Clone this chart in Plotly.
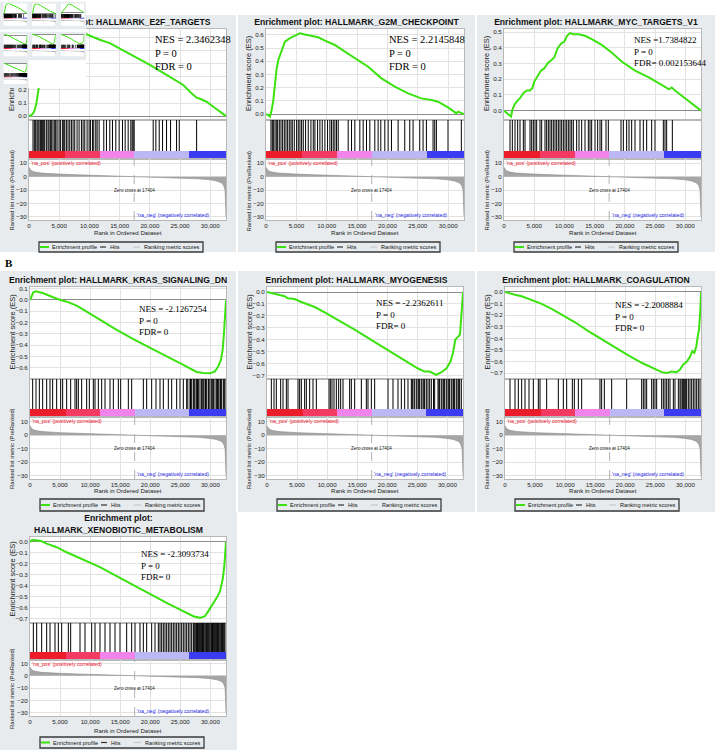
import plotly.graph_objects as go

W, H = 715, 750
N_RANK = 32600
ZERO_CROSS = 17404

# ---------------- data ----------------
METRIC_RANK = [0, 100, 300, 600, 1000, 2000, 3000, 5000, 8000, 11000, 14000, 17404, 20000,
               23000, 26000, 28000, 30000, 31000, 31800, 32200, 32450, 32550, 32600]
METRIC_SCORE = [7.0, 5.8, 4.8, 4.0, 3.4, 2.7, 2.3, 1.9, 1.4, 1.0, 0.5, 0.0, -0.4,
                -0.8, -1.2, -1.6, -2.4, -3.2, -4.5, -6.5, -10.0, -20.0, -30.0]

COLORBAR_EDGES = [0, 6000, 11700, 17404, 26500, 32600]
COLORBAR_COLORS = ['#ec1c2a', '#f23a62', '#f283ea', '#bcb8f5', '#3b3bf2']

X_TICKS = [0, 5000, 10000, 15000, 20000, 25000, 30000]
X_TICK_LABELS = ['0', '5,000', '10,000', '15,000', '20,000', '25,000', '30,000']
METRIC_TICKS = [10, 0, -10, -20, -30]

TITLES = [
    ['Enrichment plot: HALLMARK_E2F_TARGETS'],
    ['Enrichment plot: HALLMARK_G2M_CHECKPOINT'],
    ['Enrichment plot: HALLMARK_MYC_TARGETS_V1'],
    ['Enrichment plot: HALLMARK_KRAS_SIGNALING_DN'],
    ['Enrichment plot: HALLMARK_MYOGENESIS'],
    ['Enrichment plot: HALLMARK_COAGULATION'],
    ['Enrichment plot:', 'HALLMARK_XENOBIOTIC_METABOLISM'],
]
STATS = [
    ['NES = 2.3462348', 'P = 0', 'FDR = 0'],
    ['NES = 2.2145848', 'P = 0', 'FDR = 0'],
    ['NES =1.7384822', 'P = 0', 'FDR= 0.002153644'],
    ['NES = -2.1267254', 'P = 0', 'FDR= 0'],
    ['NES = -2.2362611', 'P = 0', 'FDR= 0'],
    ['NES = -2.2008884', 'P = 0', 'FDR= 0'],
    ['NES = -2.3093734', 'P = 0', 'FDR= 0'],
]

E2F_RANK = [0, 387, 663, 939, 1216, 1492, 2000, 2500, 3000, 3500, 4000, 5000, 6000, 7000, 8000,
            8950, 11713, 13370, 17238, 20000, 22763, 25525, 26907, 27736, 28288, 29393, 30498,
            31603, 32600]
E2F_ES = [0.0, 0.008, 0.02, 0.046, 0.097, 0.187, 0.33, 0.43, 0.51, 0.56, 0.60, 0.63, 0.645,
          0.655, 0.655, 0.636, 0.585, 0.559, 0.462, 0.392, 0.315, 0.238, 0.174, 0.141, 0.133,
          0.110, 0.072, 0.033, 0.0]
E2F_HITS = [663, 884, 1105, 1326, 1492, 1658, 1879, 2044, 2210, 2431, 2597, 2873, 3149, 3315,
            3536, 3757, 3978, 4254, 4420, 4641, 4973, 5194, 5525, 5746, 5912, 6188, 6464, 6741,
            7017, 7293, 7569, 7956, 8288, 8674, 8951, 9227, 9614, 9945, 10166, 10498, 10719,
            11050, 11271, 11603, 12376, 12818, 13371, 13813, 14365, 14918, 15470, 15912, 16409,
            16851, 17072, 17238, 17404, 20553, 20995, 21548, 22100, 22763, 23426, 24421, 24863,
            27736]

G2M_RANK = [0, 384, 657, 931, 1205, 1479, 1753, 2027, 2575, 3123, 3945, 4767, 5589, 6410, 7506,
            8602, 9698, 11342, 12986, 14629, 16821, 19012, 21204, 23396, 25585, 27230, 28325,
            29970, 31340, 31614, 32053, 32600]
G2M_ES = [0.0, -0.008, -0.02, 0.03, 0.106, 0.233, 0.347, 0.41, 0.486, 0.549, 0.575, 0.592,
          0.613, 0.603, 0.592, 0.582, 0.557, 0.524, 0.473, 0.423, 0.359, 0.271, 0.208, 0.157,
          0.119, 0.106, 0.094, 0.051, 0.005, 0.018, 0.01, 0.0]
G2M_HITS = [822, 1041, 1205, 1479, 1698, 1918, 2192, 2466, 2740, 3013, 3287, 3561, 3835, 4109,
            4328, 4657, 5041, 5315, 5589, 5863, 6136, 6520, 6958, 7397, 7780, 8054, 8492, 8876,
            9260, 9698, 10136, 10520, 10794, 11068, 11342, 11615, 11889, 13533, 14081, 14629,
            15451, 15999, 16547, 17094, 17916, 18464, 18903, 19560, 20108, 20656, 21752, 22847,
            23669, 24217, 25313, 25861, 26409, 27505, 27779, 28053, 29970, 32162]

MYC_RANK = [0, 717, 1158, 1379, 1710, 2096, 2648, 3199, 3751, 4302, 4689, 5020, 5571, 6123,
            6675, 7226, 7778, 8329, 8881, 9432, 9984, 10425, 10922, 11473, 12301, 13404, 14507,
            16162, 17817, 19472, 21678, 23884, 26091, 27305, 27746, 28298, 29953, 31331, 32600]
MYC_ES = [0.0, -0.021, -0.038, 0.004, 0.036, 0.057, 0.079, 0.111, 0.128, 0.128, 0.143, 0.185,
          0.221, 0.255, 0.27, 0.302, 0.319, 0.34, 0.398, 0.426, 0.44, 0.477, 0.494, 0.487,
          0.487, 0.477, 0.455, 0.419, 0.37, 0.313, 0.255, 0.213, 0.164, 0.136, 0.147, 0.128,
          0.079, 0.036, 0.0]
MYC_HITS = [993, 1379, 1820, 2262, 2648, 3199, 3475, 4302, 4578, 4854, 5130, 5406, 5957, 6233,
            6785, 7060, 7336, 7612, 7888, 8164, 8440, 8715, 8991, 9267, 9543, 9818, 10094,
            10370, 10646, 10922, 11197, 11473, 12025, 12411, 12852, 13404, 13955, 14231, 14507,
            15059, 15500, 15886, 16162, 16879, 17265, 19361, 19747, 20299, 20685, 21126, 21678,
            22505, 23057, 23608, 24436, 24987, 26366, 26642, 26918, 27856]

KRAS_RANK = [0, 277, 554, 998, 1552, 2218, 3326, 4712, 6098, 7762, 9425, 11642, 14414, 17186,
             19958, 22730, 24948, 26611, 27720, 28829, 29938, 30769, 31323, 31767, 32044, 32266,
             32432, 32600]
KRAS_ES = [0.0, 0.044, 0.068, 0.076, 0.071, 0.059, 0.035, 0.006, -0.015, -0.05, -0.103, -0.176,
           -0.265, -0.347, -0.426, -0.5, -0.559, -0.609, -0.638, -0.647, -0.65, -0.632, -0.588,
           -0.529, -0.441, -0.294, -0.147, 0.0]
KRAS_HITS = [444, 998, 1552, 2107, 2772, 3326, 3770, 4435, 5100, 5433, 6098, 6764, 7484, 7762,
             8039, 8593, 9425, 9868, 10534, 10811, 11365, 11920, 12474, 13306, 13860, 14692,
             15080, 16355, 16909, 18850, 19404, 20236, 20956, 21622, 22176, 23008, 23562, 24394,
             24948, 25502, 26057, 26250, 26611, 26700, 26888, 27166, 27300, 27443, 27720, 27850,
             27997, 28274, 28552, 28640, 28829, 29106, 29200, 29383, 29660, 29750, 29938, 30215,
             30400, 30492, 30769, 31046, 31200, 31323, 31601, 31700, 31878, 32155, 32300, 32432]

MYO_RANK = [0, 721, 1830, 2938, 3493, 4601, 5710, 6542, 7928, 9591, 11254, 12918, 14581, 16798,
            19016, 21233, 23451, 25114, 26223, 27055, 28163, 28995, 29826, 30547, 30935, 31323,
            31767, 32099, 32321, 32600]
MYO_ES = [0.0, -0.008, -0.022, -0.036, -0.053, -0.059, -0.084, -0.101, -0.126, -0.17, -0.218,
          -0.265, -0.316, -0.385, -0.455, -0.525, -0.595, -0.642, -0.668, -0.668, -0.696, -0.673,
          -0.642, -0.581, -0.511, -0.399, -0.377, -0.358, -0.204, 0.0]
MYO_HITS = [721, 1164, 1552, 2273, 2661, 3216, 3493, 5156, 5433, 5710, 6265, 6542, 7096, 7651,
            8205, 10312, 10534, 10811, 11143, 11531, 11920, 12252, 12640, 13749, 14026, 14581,
            15690, 16521, 16798, 17353, 17907, 20125, 20956, 21788, 22342, 22897, 23451, 24006,
            24150, 24283, 24560, 24837, 25114, 25250, 25392, 25669, 25946, 26100, 26223, 26500,
            26777, 27055, 27332, 27700, 27886, 28440, 28600, 28718, 28995, 29272, 29400, 29549,
            29826, 30104, 30250, 30381, 30658, 30935, 31050, 31212, 31490, 31767, 31900, 32044,
            32321]

COAG_RANK = [0, 554, 1663, 2772, 3881, 5544, 6098, 7762, 9425, 11642, 13860, 16078, 18295, 20513,
             22730, 24394, 26057, 26888, 27720, 28552, 29106, 29660, 30215, 30769, 31157, 31490,
             31823, 32044, 32266, 32488, 32600]
COAG_ES = [0.0, -0.009, -0.023, -0.037, -0.06, -0.095, -0.103, -0.146, -0.195, -0.261, -0.338,
           -0.41, -0.481, -0.547, -0.61, -0.653, -0.691, -0.699, -0.685, -0.691, -0.668, -0.625,
           -0.602, -0.559, -0.51, -0.524, -0.467, -0.387, -0.324, -0.152, 0.0]
COAG_HITS = [832, 1663, 2218, 2772, 3326, 3992, 4712, 5544, 5821, 6930, 8870, 9702, 10256,
             11199, 11532, 12197, 12751, 15800, 16078, 16521, 17741, 20236, 22730, 23008, 23285,
             23562, 24394, 24671, 24948, 25225, 26057, 26334, 26611, 26888, 27166, 27443, 27997,
             28274, 28829, 29106, 29272, 29494, 29660, 29827, 30048, 30215, 30492, 30769, 31046,
             31323, 31601, 31878, 32155, 32432]

XENO_RANK = [0, 277, 832, 1386, 1940, 2772, 4435, 6098, 8870, 11642, 14414, 17186, 19958, 22730,
             24394, 26057, 27166, 28274, 29106, 29660, 30492, 31157, 31601, 32044, 32321, 32600]
XENO_ES = [0.0, 0.015, 0.018, 0.012, 0.006, -0.015, -0.048, -0.094, -0.161, -0.23, -0.312,
           -0.394, -0.479, -0.555, -0.6, -0.645, -0.676, -0.691, -0.676, -0.63, -0.561, -0.5,
           -0.448, -0.342, -0.221, 0.0]
XENO_HITS = [554, 1109, 1940, 2772, 3326, 4158, 4712, 5267, 6376, 6764, 8316, 9148, 10256, 10811,
             11642, 12474, 13306, 14137, 14969, 16078, 16909, 17464, 18295, 18850, 19404, 20236,
             20790, 21344, 21622, 21899, 22176, 22453, 22730, 23008, 23285, 23562, 23839, 24116,
             24394, 24671, 24948, 25225, 25502, 25780, 26057, 26334, 26611, 26888, 27166, 27300,
             27443, 27600, 27720, 27850, 27997, 28150, 28274, 28400, 28552, 28700, 28829, 28950,
             29106, 29250, 29383, 29500, 29660, 29800, 29938, 30100, 30215, 30350, 30492, 30650,
             30769, 30900, 31046, 31200, 31323, 31450, 31601, 31750, 31878, 32000, 32155, 32300,
             32432]

ES_RANGES = [[-0.03, 0.667], [-0.045, 0.645], [-0.06, 0.52], [-0.70, 0.115],
             [-0.73, 0.042], [-0.75, 0.043], [-0.738, 0.045]]
ES_TICKS = [[0.0, 0.1, 0.2, 0.3, 0.4, 0.5, 0.6],
            [0.0, 0.1, 0.2, 0.3, 0.4, 0.5, 0.6],
            [0.0, 0.1, 0.2, 0.3, 0.4, 0.5],
            [0.1, 0.0, -0.1, -0.2, -0.3, -0.4, -0.5, -0.6],
            [0.0, -0.1, -0.2, -0.3, -0.4, -0.5, -0.6, -0.7],
            [0.0, -0.1, -0.2, -0.3, -0.4, -0.5, -0.6, -0.7],
            [0.0, -0.1, -0.2, -0.3, -0.4, -0.5, -0.6, -0.7]]

PANELS = [
    dict(rank=E2F_RANK, es=E2F_ES, hits=E2F_HITS),
    dict(rank=G2M_RANK, es=G2M_ES, hits=G2M_HITS),
    dict(rank=MYC_RANK, es=MYC_ES, hits=MYC_HITS),
    dict(rank=KRAS_RANK, es=KRAS_ES, hits=KRAS_HITS),
    dict(rank=MYO_RANK, es=MYO_ES, hits=MYO_HITS),
    dict(rank=COAG_RANK, es=COAG_ES, hits=COAG_HITS),
    dict(rank=XENO_RANK, es=XENO_ES, hits=XENO_HITS),
]
for i, p in enumerate(PANELS):
    p['title'] = TITLES[i]
    p['stats'] = STATS[i]
    p['yrange'] = ES_RANGES[i]
    p['yticks'] = ES_TICKS[i]

# ---------------- geometry / style (pixels) ----------------
ROWS = {
    'A': dict(bg=(15, 252), tlen=[0], es=(29, 120), cb=(151, 159), rk=220, rr=[-32.4, 13.2],
              xt=233, leg=(242, 252)),
    'B': dict(bg=(271, 512), tlen=[0], es=(287, 379), cb=(409, 417), rk=479, rr=[-32.5, 13.5],
              xt=490, leg=(499, 511)),
    'C': dict(bg=(512, 750), tlen=[12, 0], es=(537, 623), cb=(652, 660), rk=716,
              rr=[-32.6, 12.7], xt=730, leg=(737, 748)),
}
GEOM = [
    ('A', (0, 236), (29, 226)),
    ('A', (238, 475), (266, 464)),
    ('A', (477, 715), (504, 701)),
    ('B', (0, 236), (30, 226)),
    ('B', (238, 475), (267, 463)),
    ('B', (477, 715), (505, 701)),
    ('C', (0, 237), (30, 226)),
]
# (left x, centre y of the 3-line block, font size)
STAT_POS = [(153, 53, 10.5), (387, 53, 10.5), (632, 51, 9.0),
            (137, 321, 9.0), (374, 315, 9.0), (613, 316, 9.0), (139, 565, 9.0)]

GREEN = '#3be20f'
BG = '#e7ebee'
FONT = 'Liberation Sans'
SERIF = 'Liberation Serif'
THUMB_W, THUMB_H = 86, 88

layout_axes = {}
traces = []
shapes = []
annots = []
counter = [0]
ovl_counter = [200]


def dom_x(a, b):
    return [max(0.0, a / W), min(1.0, b / W)]


def dom_y(top, bot):
    return [max(0.0, 1 - bot / H), min(1.0, 1 - top / H)]


def new_axes(xd, yd, xcfg, ycfg):
    counter[0] += 1
    n = counter[0]
    s = '' if n == 1 else str(n)
    layout_axes['xaxis' + s] = dict(domain=xd, anchor='y' + s, **xcfg)
    layout_axes['yaxis' + s] = dict(domain=yd, anchor='x' + s, **ycfg)
    return 'x' + s, 'y' + s


def ax(rng, **kw):
    d = dict(range=rng, showgrid=False, zeroline=False, showticklabels=False, ticks='',
             showline=False, fixedrange=True, automargin=False)
    d.update(kw)
    return d


def px(x, y, **kw):
    d = dict(xref='paper', yref='paper', x=x / W, y=1 - y / H, showarrow=False,
             xanchor='center', yanchor='middle')
    d.update(kw)
    return d


def rect(x0, y0, x1, y1, color, layer='below', line=None):
    return dict(type='rect', xref='paper', yref='paper', x0=x0 / W, x1=x1 / W,
                y0=1 - y1 / H, y1=1 - y0 / H, fillcolor=color, layer=layer,
                line=line or dict(width=0))


def plot_rects(geo):
    row, (bx0, bx1), (pl, pr) = geo
    R = ROWS[row]
    return [(pl, R['es'][0], pr, R['es'][1]), (pl, R['es'][1], pr, R['cb'][0]),
            (pl, R['cb'][1], pr, R['rk'])]


def build(i, p, geo, sx, sy, full):
    row, (bx0, bx1), (pl, pr) = geo
    R = ROWS[row]
    es_t, es_b = R['es']
    cb_t, cb_b = R['cb']
    rk_b = R['rk']
    rr = R['rr']
    tick_font = dict(family=FONT, size=6.2, color='#222')
    grid = dict(showgrid=True, gridcolor='#e2e2e2', gridwidth=1) if full else {}
    frame = dict(showline=True, linecolor='#b8b8b8', linewidth=1, mirror=True) if full else {}
    xd = dom_x(pl * sx, pr * sx)
    common = dict(hoverinfo='skip', showlegend=False)

    # ---- running enrichment score ----
    xa, ya = new_axes(xd, dom_y(es_t * sy, es_b * sy),
                      ax([0, N_RANK], tickvals=X_TICKS, **grid, **frame),
                      ax(p['yrange'], tickvals=p['yticks'], tickformat='.1f',
                         showticklabels=full, tickfont=tick_font, zeroline=True,
                         zerolinecolor='#8c8c8c', zerolinewidth=1 if full else 0.5,
                         **grid, **frame))
    traces.append(go.Scatter(x=p['rank'], y=p['es'], mode='lines', xaxis=xa, yaxis=ya,
                             line=dict(color=GREEN, width=2 if full else 1.0), **common))
    if full:
        yr = p['yrange']
        # title lines, drawn as tick labels of overlaying top axes (stay in the subplot layer)
        cx = ((bx0 + bx1) / 2 - pl) / (pr - pl) * N_RANK
        for line, tl in zip(p['title'], R['tlen']):
            ovl_counter[0] += 1
            m = ovl_counter[0]
            layout_axes['xaxis%d' % m] = dict(
                overlaying=xa, side='top', anchor=ya, range=[0, N_RANK], fixedrange=True,
                tickvals=[cx], ticktext=['<b>%s</b>' % line],
                ticks='outside', ticklen=tl, tickcolor='rgba(0,0,0,0)', showgrid=False,
                zeroline=False, showline=False, automargin=False,
                tickfont=dict(family=FONT, size=8.6, color='#111'))
            traces.append(go.Scatter(x=[None], y=[None], xaxis='x%d' % m, yaxis=ya, **common))
        # y title, drawn as an overlaying-axis tick label
        ovl_counter[0] += 1
        m = ovl_counter[0]
        layout_axes['yaxis%d' % m] = dict(
            overlaying=ya, side='left', anchor=xa, range=yr, fixedrange=True,
            tickvals=[(yr[0] + yr[1]) / 2], ticktext=['Enrichment score (ES)'], tickangle=-90,
            ticks='outside', ticklen=11, tickcolor='rgba(0,0,0,0)', showgrid=False,
            zeroline=False, showline=False, automargin=False,
            tickfont=dict(family=FONT, size=7.5, color='#222'))
        traces.append(go.Scatter(x=[None], y=[None], xaxis=xa, yaxis='y%d' % m, **common))
        # statistics
        sxp, syc, fs = STAT_POS[i]
        annots.append(px(sxp, syc, text='<br>'.join(p['stats']), xanchor='left',
                         yanchor='middle', align='left',
                         font=dict(family=SERIF, size=fs, color='#000')))

    # ---- hits + colour bar ----
    hh = cb_b - es_b
    cbh = cb_b - cb_t
    xa2, ya2 = new_axes(xd, dom_y(es_b * sy, cb_b * sy),
                        ax([0, N_RANK], **frame), ax([0, hh], **frame))
    hx, hy = [], []
    for h in p['hits']:
        hx += [h, h, None]
        hy += [cbh, hh, None]
    traces.append(go.Scatter(x=hx, y=hy, mode='lines', xaxis=xa2, yaxis=ya2,
                             line=dict(color='#000', width=1 if full else 0.6), **common))
    nc = len(COLORBAR_COLORS)
    traces.append(go.Heatmap(z=[list(range(nc))], x=COLORBAR_EDGES, y=[0, cbh],
                             colorscale=[[k / (nc - 1), c] for k, c in enumerate(COLORBAR_COLORS)],
                             zmin=0, zmax=nc - 1, showscale=False, xaxis=xa2, yaxis=ya2,
                             hoverinfo='skip'))

    # ---- ranked list metric ----
    xa3, ya3 = new_axes(xd, dom_y(cb_b * sy, rk_b * sy),
                        ax([0, N_RANK], tickvals=X_TICKS, ticktext=X_TICK_LABELS,
                           showticklabels=full, tickfont=tick_font, **grid, **frame),
                        ax(rr, tickvals=METRIC_TICKS, showticklabels=full, tickfont=tick_font,
                           **grid, **frame))
    traces.append(go.Scatter(x=METRIC_RANK, y=METRIC_SCORE, mode='lines', fill='tozeroy',
                             fillcolor='#a6a6a6', xaxis=xa3, yaxis=ya3,
                             line=dict(color='#8a8a8a', width=0.6 if full else 0.3), **common))
    if not full:
        return
    traces.append(go.Scatter(x=[ZERO_CROSS, ZERO_CROSS], y=rr, mode='lines', xaxis=xa3,
                             yaxis=ya3, line=dict(color='#a0a0a0', width=0.8, dash='dash'),
                             **common))
    annots.append(dict(xref=xa3, yref=ya3, x=ZERO_CROSS, y=-10, showarrow=False,
                       text='Zero cross at 17404', font=dict(family=FONT, size=4.6, color='#222')))
    annots.append(dict(xref=xa3, yref=ya3, x=0, y=rr[1] - 3.0, showarrow=False, xanchor='left',
                       text="'na_pos' (positively correlated)",
                       font=dict(family=FONT, size=5.2, color='#e8102a')))
    annots.append(dict(xref=xa3, yref=ya3, x=23800, y=-28.6, showarrow=False,
                       text="'na_neg' (negatively correlated)",
                       font=dict(family=FONT, size=5.2, color='#2a2ae8')))
    # axis titles
    annots.append(px(pl - 18, (cb_t + rk_b) / 2 + 5, text='Ranked list metric (PreRanked)',
                     textangle=-90, font=dict(family=FONT, size=5.8, color='#222')))
    annots.append(px((pl + pr) / 2, R['xt'], text='Rank in Ordered Dataset',
                     font=dict(family=FONT, size=6.1, color='#222')))
    # legend
    L = pl + 10
    lt, lb = R['leg']
    yc = (lt + lb) / 2
    shapes.append(rect(L, lt, L + 164, lb, 'rgba(0,0,0,0)', layer='above',
                       line=dict(color='#3a3a3a', width=1.3)))
    for a, b, col, wdt in [(1, 10, GREEN, 2), (61, 67, '#333', 1.2), (94, 101, '#c9c9c9', 1.2)]:
        shapes.append(dict(type='line', xref='paper', yref='paper', x0=(L + a) / W,
                           x1=(L + b) / W, y0=1 - yc / H, y1=1 - yc / H, layer='above',
                           line=dict(color=col, width=wdt)))
    for off, t in [(11, 'Enrichment profile'), (69, 'Hits'), (103, 'Ranking metric scores')]:
        annots.append(px(L + off, yc, text=t, xanchor='left', yanchor='middle',
                         font=dict(family=FONT, size=5.6, color='#111')))


# ---- main panels: backgrounds ----
for geo in GEOM:
    row, (bx0, bx1), _ = geo
    shapes.append(rect(bx0, ROWS[row]['bg'][0], bx1, ROWS[row]['bg'][1], BG))
for geo in GEOM:
    for r in plot_rects(geo):
        shapes.append(rect(*r, '#ffffff'))

for i, (p, geo) in enumerate(zip(PANELS, GEOM)):
    build(i, p, geo, 1.0, 1.0, True)

annots.append(px(9, 263, text='<b>B</b>', font=dict(family=SERIF, size=11, color='#000')))

# ---- thumbnail overlay (scaled copy of the figure) ----
sx, sy = THUMB_W / W, THUMB_H / H
txa, tya = new_axes(dom_x(0, THUMB_W), dom_y(0, THUMB_H), ax([0, W]), ax([H, 0]))


def poly(rects):
    xs, ys = [], []
    for x0, y0, x1, y1 in rects:
        xs += [x0, x1, x1, x0, x0, None]
        ys += [y0, y0, y1, y1, y0, None]
    return xs, ys


for rects, col in [([(0, 0, W, H)], '#ffffff'),
                   ([(g[1][0], ROWS[g[0]]['bg'][0], g[1][1], ROWS[g[0]]['bg'][1]) for g in GEOM], BG),
                   ([r for g in GEOM for r in plot_rects(g)], '#ffffff')]:
    xs, ys = poly(rects)
    traces.append(go.Scatter(x=xs, y=ys, mode='lines', fill='toself', fillcolor=col,
                             line=dict(width=0), xaxis=txa, yaxis=tya, hoverinfo='skip',
                             showlegend=False))
for i, (p, geo) in enumerate(zip(PANELS, GEOM)):
    build(i, p, geo, sx, sy, False)

fig = go.Figure(data=traces)
fig.update_layout(
    template='none', width=W, height=H, margin=dict(l=0, r=0, t=0, b=0),
    paper_bgcolor='#ffffff', plot_bgcolor='rgba(0,0,0,0)', showlegend=False,
    font=dict(family=FONT, size=7, color='#222'),
    shapes=shapes, annotations=annots, **layout_axes)
fig.write_html('out.html')
